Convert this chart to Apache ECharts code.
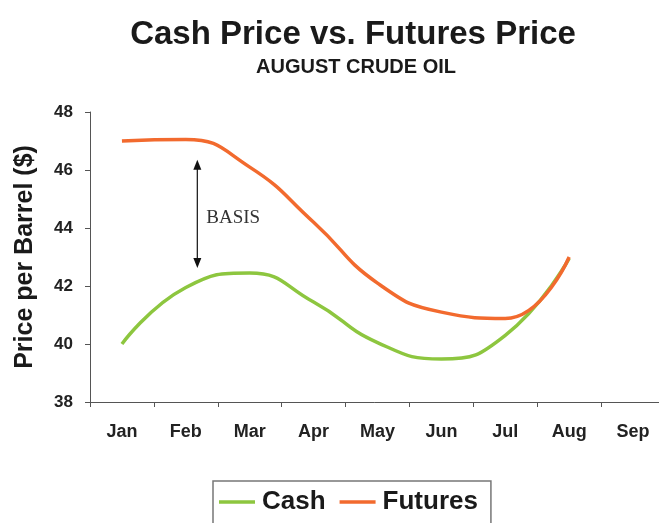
<!DOCTYPE html>
<html>
<head>
<meta charset="utf-8">
<script src="https://cdn.jsdelivr.net/npm/echarts@6/dist/echarts.min.js"></script>
<style>
  html, body { margin: 0; padding: 0; background: #fff; }
  #main { width: 659px; height: 523px; }
</style>
</head>
<body>
<div id="main"></div>
<script>
var months = ['Jan', 'Feb', 'Mar', 'Apr', 'May', 'Jun', 'Jul', 'Aug', 'Sep'];
var cashPrice = [40.0, 41.95, 42.45, 41.45, 40.05, 39.48, 40.3, 42.95, null];
var futuresPrice = [47.0, 47.05, 46.1, 44.2, 42.1, 41.1, 40.88, 43.0, null];
// basis arrow: position between Feb and Mar, top / bottom prices
var basisAt = 1.18;
var basisRange = [46.35, 42.62];

var myChart = echarts.init(document.getElementById('main'));

var font = 'Liberation Sans, Arial, sans-serif';

var option = {
    backgroundColor: '#fff',
    animation: false,
    title: [{
        text: 'Cash Price vs. Futures Price',
        left: 348,
        top: 13,
        textAlign: 'center',
        textStyle: { fontFamily: font, fontWeight: 'bold', fontSize: 33, color: '#1a1a1a' }
    }, {
        text: 'AUGUST CRUDE OIL',
        left: 351,
        top: 52,
        textAlign: 'center',
        textStyle: { fontFamily: font, fontWeight: 'bold', fontSize: 20, color: '#1a1a1a' }
    }],
    legend: {
        left: 213,
        top: 481,
        data: ['Cash', 'Futures'],
        icon: 'rect',
        itemWidth: 36,
        itemHeight: 3.5,
        itemGap: 14,
        padding: [8, 13, 40, 6],
        borderColor: '#777',
        borderWidth: 1.5,
        textStyle: { fontFamily: font, fontWeight: 'bold', fontSize: 26, color: '#1a1a1a', padding: [0, 0, 0, 2] }
    },
    grid: {
        left: 90,
        top: 112,
        bottom: 121,
        width: 575,
        outerBoundsMode: 'none'
    },
    xAxis: {
        type: 'category',
        data: months,
        boundaryGap: true,
        axisLine: { lineStyle: { color: '#555', width: 1 } },
        axisTick: { show: true, length: 5, lineStyle: { color: '#555' } },
        axisLabel: { margin: 21, fontFamily: font, fontWeight: 'bold', fontSize: 18, color: '#222' },
        splitLine: { show: false }
    },
    yAxis: {
        type: 'value',
        min: 38,
        max: 48,
        interval: 2,
        name: 'Price per Barrel ($)',
        nameLocation: 'middle',
        nameGap: 52,
        nameRotate: 90,
        nameTextStyle: { fontFamily: font, fontWeight: 'bold', fontSize: 25, color: '#1a1a1a' },
        axisLine: { show: true, lineStyle: { color: '#555', width: 1 } },
        axisTick: { show: true, length: 5, lineStyle: { color: '#555' } },
        axisLabel: { margin: 17, fontFamily: font, fontWeight: 'bold', fontSize: 17, color: '#222' },
        splitLine: { show: false }
    },
    series: [{
        name: 'Cash',
        type: 'line',
        data: cashPrice,
        smooth: 0.5,
        symbol: 'none',
        lineStyle: { color: '#8dc63f', width: 3.5 },
        itemStyle: { color: '#8dc63f' },
        z: 2
    }, {
        name: 'Futures',
        type: 'line',
        data: futuresPrice,
        smooth: 0.5,
        symbol: 'none',
        lineStyle: { color: '#f26a2e', width: 3.5 },
        itemStyle: { color: '#f26a2e' },
        z: 3
    }]
};

myChart.setOption(option);

// basis arrow, placed through the axes
var i0 = Math.floor(basisAt);
var pA = myChart.convertToPixel({ xAxisIndex: 0, yAxisIndex: 0 }, [months[i0], basisRange[0]]);
var pB = myChart.convertToPixel({ xAxisIndex: 0, yAxisIndex: 0 }, [months[i0 + 1], basisRange[1]]);
var ax = pA[0] + (basisAt - i0) * (pB[0] - pA[0]);
var y1 = pA[1], y2 = pB[1];
var midY = (y1 + y2) / 2 + 4;

myChart.setOption({
    graphic: [{
        type: 'line',
        shape: { x1: ax, y1: y1 + 6, x2: ax, y2: y2 - 6 },
        style: { stroke: '#222', lineWidth: 1.3 }
    }, {
        type: 'polygon',
        shape: { points: [[ax, y1], [ax - 4, y1 + 10], [ax + 4, y1 + 10]] },
        style: { fill: '#111' }
    }, {
        type: 'polygon',
        shape: { points: [[ax, y2], [ax - 4, y2 - 10], [ax + 4, y2 - 10]] },
        style: { fill: '#111' }
    }, {
        type: 'text',
        x: ax + 9,
        y: midY,
        style: {
            text: 'BASIS',
            fill: '#333',
            font: '19px "Liberation Serif", "Times New Roman", serif',
            verticalAlign: 'middle'
        }
    }]
});
</script>
</body>
</html>
